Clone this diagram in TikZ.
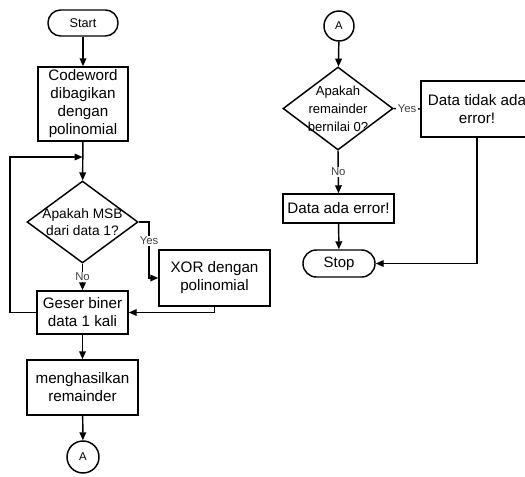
\documentclass[tikz,border=0pt]{standalone}
\usepackage{fontspec}
\setmainfont{Liberation Sans}
\usetikzlibrary{shapes.geometric,arrows.meta}

\tikzset{
	arr/.style={-{Triangle[length=6pt,width=5pt]}},
	term/.style={draw,rectangle,rounded corners=9.5pt,inner sep=0pt,font=\fontsize{9.5}{11}\selectfont},
	proc/.style={draw,rectangle,inner sep=0pt,align=center,font=\fontsize{11.4}{13.5}\selectfont},
	decision/.style={draw,diamond,inner sep=0pt},
	dtext/.style={align=center,inner sep=0pt},
	conn/.style={draw,circle,inner sep=0pt,font=\fontsize{8.5}{9}\selectfont},
	lbl/.style={fill=white,inner sep=1pt,text=black!75,font=\fontsize{8.5}{9}\selectfont}
}

\begin{document}
\begin{tikzpicture}[x=0.75pt,y=-0.75pt,line width=1.1pt]
		\useasboundingbox (0,0) rectangle (525,476);
		\clip (0,0) rectangle (525,476);
			\node[term,minimum width=52.5pt,minimum height=19.5pt] (start) at (83,23) {Start};
			\node[proc,minimum width=67.5pt,minimum height=55.5pt] (code) at (83,104) {Codeword\\dibagikan\\dengan\\polinomial};
			\node[decision,minimum width=83.25pt,minimum height=61.5pt,
				label={[dtext,font=\fontsize{10.3}{12.5}\selectfont]center:Apakah MSB\\dari data 1?}] (d1) at (82.5,222) {};
			\node[proc,minimum width=83.25pt,minimum height=42pt] (xor) at (214.5,278) {XOR dengan\\polinomial};
			\node[proc,minimum width=68.25pt,minimum height=32.25pt] (geser) at (82.5,312.5) {Geser biner\\data 1 kali};
			\node[proc,minimum width=83.25pt,minimum height=41.25pt] (hasil) at (82.5,387.5) {menghasilkan\\remainder};
			\node[conn,minimum size=24pt] (a1) at (83,457) {A};
			\coordinate (merge) at (82.5,157);
			\coordinate (loop) at (10,157);
			\coordinate (yesc) at (149,278);

			\node[conn,minimum size=22.5pt] (a2) at (339,26) {A};
			\node[decision,minimum width=82.5pt,minimum height=62.25pt,
				label={[dtext,font=\fontsize{9.8}{13.5}\selectfont]center:Apakah\\remainder\\bernilai 0?}] (d2) at (338,108.5) {};
			\node[proc,minimum width=84pt,minimum height=42pt] (tidak) at (477,109) {Data tidak ada\\error!};
			\node[proc,minimum width=83.25pt,minimum height=21.75pt] (ada) at (338.5,208.5) {Data ada error!};
			\node[term,minimum width=54pt,minimum height=20.25pt,rounded corners=10pt,font=\fontsize{11.2}{13}\selectfont] (stop) at (339,263.5) {Stop};

			\draw[arr] (start) -- (code);
			\draw[arr] (code) -- (d1);
			\draw[arr] (d1.east) -| node[lbl,pos=0.67] {Yes} (yesc) -- (xor.west);
			\draw[arr] (d1.south) -- node[lbl] {No} (geser.north);
			\draw[arr] (xor.south) |- (geser.east);
			\draw[arr] (geser.west) -| (loop) -- (merge);
			\draw[arr] (geser) -- (hasil);
			\draw[arr] (hasil) -- (a1);

			\draw[arr] (a2) -- (d2);
			\draw (d2.east) -- node[lbl] {Yes} (tidak.west);
			\draw[arr] (d2.south) -- node[lbl] {No} (ada.north);
			\draw[arr] (ada) -- (stop);
			\draw[arr] (tidak.south) |- (stop.east);
		\end{tikzpicture}
\end{document}
